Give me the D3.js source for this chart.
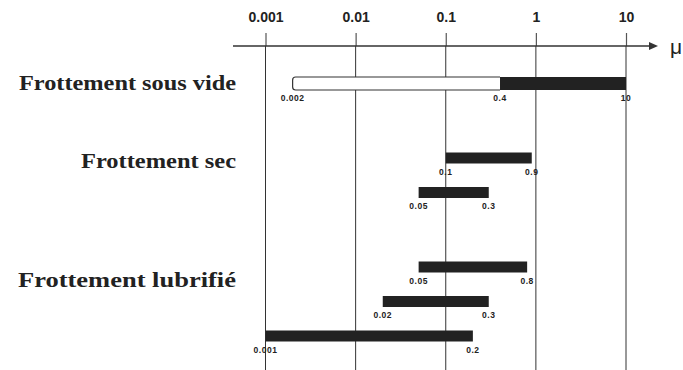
<!DOCTYPE html>
<html lang="fr">
<head>
  <meta charset="UTF-8" />
  <title>Coefficient de frottement</title>
  <script src="https://d3js.org/d3.v7.min.js"></script>
  <style>
    body { margin: 0; background: #fff; }
    .group-label { font-family: "Liberation Serif", "Times New Roman", serif; font-weight: bold; font-size: 22px; fill: #222; }
    .tick-label { font-family: "Liberation Sans", Arial, sans-serif; font-weight: bold; font-size: 14px; fill: #222; }
    .val-label { font-family: "Liberation Sans", Arial, sans-serif; font-weight: bold; font-size: 8.5px; fill: #222; letter-spacing: 0.5px; }
    .grid { stroke: #333; stroke-width: 1; }
  </style>
</head>
<body>
<svg id="chart" width="683" height="370"></svg>
<script>
// axis
const tickValues = [0.001, 0.01, 0.1, 1, 10];
const tickLabels = ["0.001", "0.01", "0.1", "1", "10"];

// categories
const groups = ["Frottement sous vide", "Frottement sec", "Frottement lubrifié"];

// one entry per bar
const barGroup = [0, 1, 1, 2, 2, 2];
const barLow   = [0.4, 0.1, 0.05, 0.05, 0.02, 0.001];
const barHigh  = [10, 0.9, 0.3, 0.8, 0.3, 0.2];

// open (white) part of the vacuum bar
const openLow  = [0.002];
const openHigh = [0.4];

const svg = d3.select("#chart");
const W = 683, H = 370;
const axisY = 46;

const x = d3.scaleLog().domain([0.001, 10]).range([265.5, 626]);

// vertical layout: step between bars, extra gap between groups
const step = 34.5, groupGap = 40, firstY = 83.5;
const bars = barLow.map((lo, i) => ({ i, lo, hi: barHigh[i], g: barGroup[i] }));
const yc = d => firstY + step * d.i + groupGap * d.g;
const barH = 11;

// grid lines
svg.append("g").selectAll("line")
  .data(tickValues)
  .join("line")
  .attr("class", "grid")
  .attr("x1", d => x(d)).attr("x2", d => x(d))
  .attr("y1", axisY).attr("y2", H);

// top axis
const ax = svg.append("g")
  .attr("transform", `translate(0,${axisY})`)
  .call(d3.axisTop(x).tickValues(tickValues).tickSize(13).tickPadding(11)
    .tickFormat((d, i) => tickLabels[i]));
ax.select(".domain").remove();
ax.selectAll(".tick line").attr("stroke", "#555").attr("stroke-width", 1.2);
ax.selectAll(".tick text").attr("class", "tick-label").attr("font-size", null).attr("font-family", null).attr("fill", null);

svg.append("line")
  .attr("x1", 233).attr("x2", 652)
  .attr("y1", axisY).attr("y2", axisY)
  .attr("stroke", "#333").attr("stroke-width", 1.6);
svg.append("path")
  .attr("d", `M658,${axisY} L649,${axisY - 4} L649,${axisY + 4} Z`)
  .attr("fill", "#333");
svg.append("text")
  .attr("x", 670).attr("y", axisY + 8)
  .attr("font-family", "Liberation Sans, Arial, sans-serif")
  .attr("font-size", 21).attr("fill", "#222")
  .text("μ");

// group labels (label offset and width follow the reference layout)
const labelDy = [-1, 2, 12];
const labelW = [217, 155, 218];
svg.append("g").selectAll("text")
  .data(groups)
  .join("text")
  .attr("class", "group-label")
  .attr("text-anchor", "end")
  .attr("x", 236)
  .attr("y", (d, g) => yc(bars.find(b => b.g === g)) + labelDy[g])
  .attr("dy", "0.35em")
  .attr("textLength", (d, g) => labelW[g])
  .attr("lengthAdjust", "spacingAndGlyphs")
  .text(d => d);

// open part of vacuum bar
const openBars = openLow.map((lo, k) => ({ lo, hi: openHigh[k], ref: bars[0] }));
svg.append("g").selectAll("path")
  .data(openBars)
  .join("path")
  .attr("d", d => {
    const x0 = x(d.lo), x1 = x(d.hi), y0 = yc(d.ref) - 6.5, h = 13, r = 3;
    return `M${x1},${y0} L${x0 + r},${y0} Q${x0},${y0} ${x0},${y0 + r} L${x0},${y0 + h - r} Q${x0},${y0 + h} ${x0 + r},${y0 + h} L${x1},${y0 + h}`;
  })
  .attr("fill", "#fff").attr("stroke", "#333").attr("stroke-width", 1.2);

// filled bars
svg.append("g").selectAll("rect")
  .data(bars)
  .join("rect")
  .attr("x", d => x(d.lo))
  .attr("width", d => x(d.hi) - x(d.lo))
  .attr("y", d => yc(d) - (d.i === 0 ? 6.5 : barH / 2))
  .attr("height", d => d.i === 0 ? 13 : barH)
  .attr("fill", "#222");

// value labels at bar ends
const valLabels = [];
bars.forEach(d => {
  const bottom = yc(d) + (d.i === 0 ? 6.5 : barH / 2);
  if (d.i === 0) {
    openBars.forEach(o => valLabels.push({ v: o.lo, y: bottom }));
  }
  valLabels.push({ v: d.lo, y: bottom });
  valLabels.push({ v: d.hi, y: bottom });
});
svg.append("g").selectAll("text")
  .data(valLabels)
  .join("text")
  .attr("class", "val-label")
  .attr("text-anchor", "middle")
  .attr("x", d => x(d.v))
  .attr("y", d => d.y + 11)
  .text(d => String(d.v));
</script>
</body>
</html>
